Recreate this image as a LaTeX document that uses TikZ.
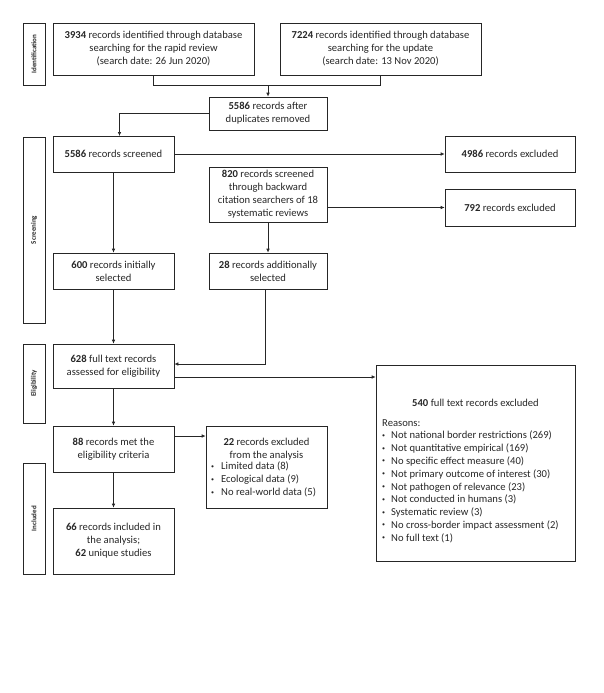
\documentclass[tikz,border=0pt]{standalone}
\usepackage{fontspec}
\setmainfont{Carlito}
\usetikzlibrary{arrows.meta}
\begin{document}
\begin{tikzpicture}[x=1pt,y=-1pt,
  box/.style={draw=black!85, line width=0.7pt, inner sep=0pt, align=center, font=\fontsize{10.6}{13}\selectfont, text=black!85},
  lab/.style={draw=black!85, line width=0.7pt, inner sep=0pt, rotate=90, font=\fontsize{7}{8}\selectfont\bfseries, text=black!85},
  txt/.style={inner sep=0pt, align=left, font=\fontsize{10.6}{12.8}\selectfont, text=black!85},
  ctxt/.style={inner sep=0pt, align=center, font=\fontsize{10.6}{12.8}\selectfont, text=black!85},
  arr/.style={-{Latex[length=4pt,width=3.6pt]}, line width=0.7pt, draw=black!85},
  ln/.style={line width=0.7pt, draw=black!85}]
\useasboundingbox (0,0) rectangle (604,693);
\newcommand{\bul}[1]{\makebox[#1][l]{\raisebox{0.3ex}{\fontsize{6}{6}\selectfont•}}}
% stage labels
\node[lab, minimum width=62pt, minimum height=22pt] (lid) at (34,54) {Identification};
\node[lab, minimum width=186pt, minimum height=22pt] (lscr) at (34,230) {Screening};
\node[lab, minimum width=79pt, minimum height=22pt] (lel) at (34,383.5) {Eligibility};
\node[lab, minimum width=111pt, minimum height=22pt] (linc) at (34,518.5) {Included};
% boxes
\node[box, minimum width=201pt, minimum height=52pt] (b1) at (153.5,49) {\textbf{3934} records identified through database\\searching for the rapid review\\(search date: 26 Jun 2020)};
\node[box, minimum width=201pt, minimum height=52pt] (b2) at (380.5,49) {\textbf{7224} records identified through database\\searching for the update\\(search date: 13 Nov 2020)};
\node[box, minimum width=118pt, minimum height=33pt] (dup) at (268,113.5) {\textbf{5586} records after\\duplicates removed};
\node[box, minimum width=121pt, minimum height=36pt] (scr) at (113.5,154) {\textbf{5586} records screened};
\node[box, minimum width=130pt, minimum height=36pt] (ex1) at (510,154) {\textbf{4986} records excluded};
\node[box, minimum width=118pt, minimum height=55pt] (bw) at (268,194.5) {\textbf{820} records screened\\through backward\\citation searchers of 18\\systematic reviews};
\node[box, minimum width=130pt, minimum height=37pt] (ex2) at (510,207.5) {\textbf{792} records excluded};
\node[box, minimum width=121pt, minimum height=36pt] (sel) at (113.5,271) {\textbf{600} records initially\\selected};
\node[box, minimum width=118pt, minimum height=36pt] (add) at (268,271) {\textbf{28} records additionally\\selected};
\node[box, minimum width=121pt, minimum height=44pt] (ft) at (113.5,366) {\textbf{628} full text records\\assessed for eligibility};
\node[box, minimum width=199pt, minimum height=196pt] (ex3) at (475.5,463) {};
\node[ctxt] (ex3t) at (475.5,403) {\textbf{540} full text records excluded};
\node[txt, anchor=north west] (ex3l) at (382,419) {Reasons:\\
\bul{9pt}Not national border restrictions (269)\\
\bul{9pt}Not quantitative empirical (169)\\
\bul{9pt}No specific effect measure (40)\\
\bul{9pt}Not primary outcome of interest (30)\\
\bul{9pt}Not pathogen of relevance (23)\\
\bul{9pt}Not conducted in humans (3)\\
\bul{9pt}Systematic review (3)\\
\bul{9pt}No cross-border impact assessment (2)\\
\bul{9pt}No full text (1)};
\node[box, minimum width=121pt, minimum height=46pt] (met) at (113.5,449) {\textbf{88} records met the\\eligibility criteria};
\node[box, minimum width=121pt, minimum height=82pt] (ex4) at (266.5,467) {};
\node[ctxt] (ex4t) at (266.5,449) {\textbf{22} records excluded\\from the analysis};
\node[txt, anchor=north west] (ex4l) at (211,462) {\bul{10pt}Limited data (8)\\\bul{10pt}Ecological data (9)\\\bul{10pt}No real-world data (5)};
\node[box, minimum width=121pt, minimum height=66pt] (inc) at (113.5,541) {\textbf{66} records included in\\the analysis;\\\textbf{62} unique studies};
% connectors
\coordinate (j1) at (153.5,85);
\coordinate (j2) at (380.5,85);
\coordinate (jm) at (268,85);
\coordinate (k1) at (119.5,113.5);
\coordinate (k2) at (119.5,136);
\draw[ln] (b1.south) -- (j1) -- (j2) -- (b2.south);
\draw[arr] (jm) -- (dup.north);
\draw[arr] (dup.west) -- (k1) -- (k2);
\draw[arr] (scr.east) -- (ex1.west);
\draw[arr] (bw.east |- ex2.west) -- (ex2.west);
\draw[arr] (scr.south) -- (sel.north);
\draw[arr] (bw.south) -- (add.north);
\draw[arr] ([xshift=-3pt]add.south) |- ([yshift=2pt]ft.east);
\draw[arr] (sel.south) -- (ft.north);
\draw[arr] ([yshift=-11pt]ft.east) -- ([yshift=-11pt]ft.east -| ex3.west);
\draw[arr] (ft.south) -- (met.north);
\draw[arr] ([yshift=13pt]met.east) -- ([yshift=13pt]met.east -| ex4.west);
\draw[arr] (met.south) -- (inc.north);
\end{tikzpicture}
\end{document}
